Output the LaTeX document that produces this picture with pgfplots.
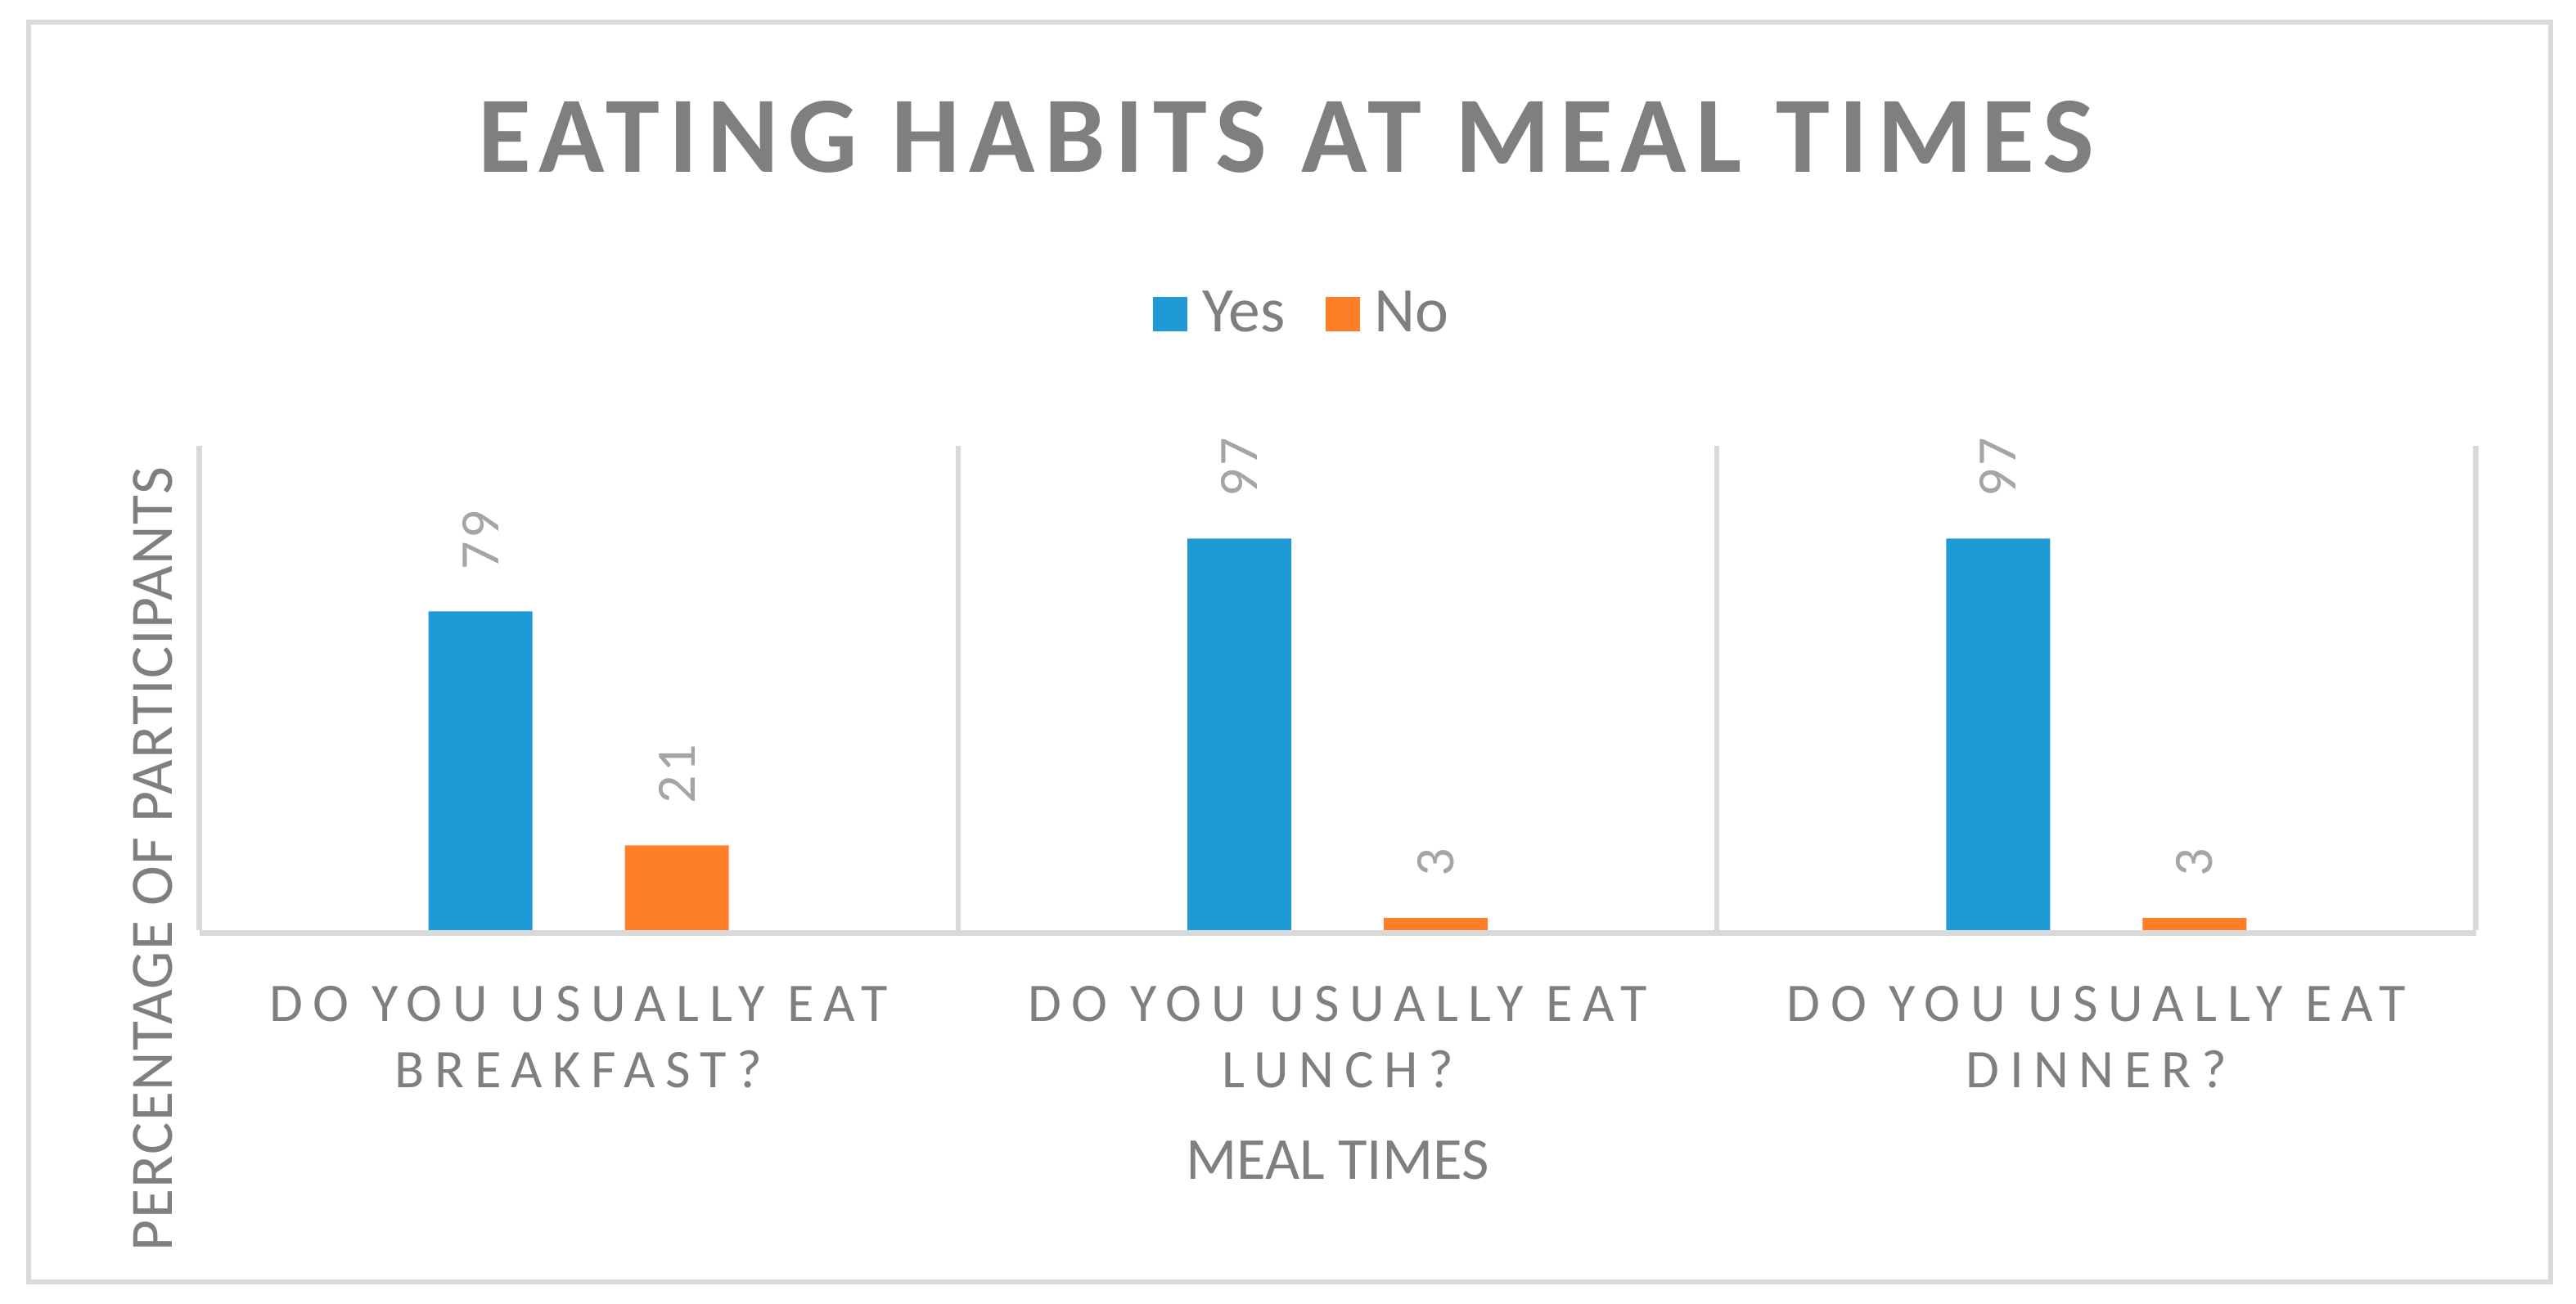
\documentclass[border=0pt]{standalone}
\usepackage{fontspec}
\setmainfont{Carlito}
\usepackage{pgfplots}
\pgfplotsset{compat=1.18}
\definecolor{barblue}{HTML}{1E9BD7}
\definecolor{barorange}{HTML}{FE7F27}
\definecolor{txtgray}{HTML}{7F7F7F}
\definecolor{lblgray}{HTML}{A5A5A5}
\definecolor{linegray}{HTML}{D9D9D9}
\newfontfamily\titlefont[LetterSpace=8.6]{Carlito}
\newfontfamily\tickfont[LetterSpace=19]{Carlito}
\newfontfamily\valfont[LetterSpace=5]{Carlito}
\newfontfamily\ylabfont[LetterSpace=2]{Carlito}
\begin{document}
\begin{tikzpicture}
\path (0,0) rectangle (787pt,398.5pt);
\draw[linegray, line width=1.6pt] (8.75pt,6.75pt) rectangle (779.25pt,391.75pt);
\begin{axis}[
  at={(60.875pt,114.25pt)}, anchor=south west,
  scale only axis, width=695.5pt, height=148pt,
  xmin=-0.5, xmax=2.5, ymin=0, ymax=120,
  ybar=28.25pt, bar width=31.75pt,
  /pgf/number format/assume math mode=true,
  xtick={0,1,2},
  xticklabels={{DO YOU USUALLY EAT\\BREAKFAST?},{DO YOU USUALLY EAT\\LUNCH?},{DO YOU USUALLY EAT\\DINNER?}},
  xticklabel style={align=center, font=\tickfont\fontsize{16.6}{20.25}\selectfont, text=txtgray, anchor=north, inner sep=0pt, yshift=-17pt},
  major tick length=0pt, minor tick length=0pt,
  minor xtick={-0.5,0.5,1.5,2.5},
  xminorgrids, minor grid style={linegray, line width=1.6pt},
  ytick=\empty,
  axis x line*=bottom, axis y line*=left,
  y axis line style={draw=none},
  x axis line style={linegray, line width=1.75pt, yshift=-0.875pt},
  title={EATING HABITS AT MEAL TIMES},
  title style={at={(axis description cs:0.4775,1.525)}, anchor=base, font=\titlefont\bfseries\fontsize{33.2}{33.2}\selectfont, text=txtgray, inner sep=0pt},
  xlabel={MEAL TIMES},
  xlabel style={at={(axis description cs:0.5,-0.515)}, anchor=base, font=\fontsize{18.2}{18.2}\selectfont, text=txtgray, inner sep=0pt},
  ylabel={PERCENTAGE OF PARTICIPANTS},
  ylabel style={at={(axis description cs:-0.0203,0.147)}, anchor=center, font=\ylabfont\fontsize{18.4}{18.4}\selectfont, text=txtgray, inner sep=0pt},
  nodes near coords,
  every node near coord/.append style={font=\valfont\fontsize{17}{17}\selectfont, text=lblgray, rotate=90, anchor=west, inner xsep=12.5pt, inner ysep=0pt},
  legend columns=2,
  legend style={draw=none, fill=none, at={(0.484,1.272)}, anchor=center, font=\fontsize{19.4}{19.4}\selectfont, text=txtgray, nodes={inner sep=0pt}, /tikz/every even column/.append style={column sep=12.25pt}},
  legend image code/.code={\fill[#1] (0pt,-5.25pt) rectangle (10.5pt,5.25pt); \path (15pt,0pt);},
]
\addplot[fill=barblue, draw=none] coordinates {(0,79) (1,97) (2,97)};
\addplot[fill=barorange, draw=none] coordinates {(0,21) (1,3) (2,3)};
\legend{Yes,No}
\end{axis}
\end{tikzpicture}
\end{document}
